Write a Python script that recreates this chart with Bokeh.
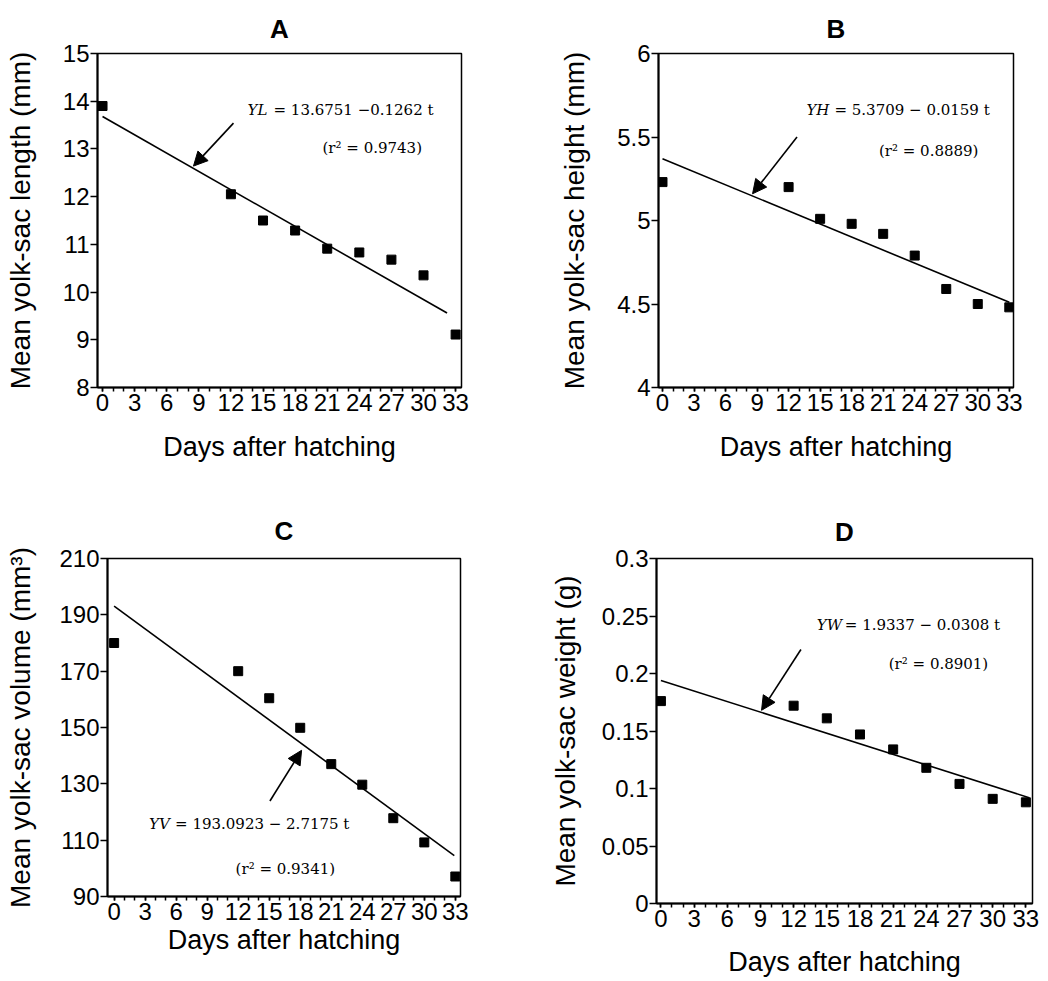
from bokeh.plotting import figure
from bokeh.layouts import column, row
from bokeh.models import (Range1d, FixedTicker, CustomJSTickFormatter, Arrow,
                          NormalHead)
from bokeh.core.properties import value
from bokeh.embed import file_html
from bokeh.resources import INLINE

# ---------------- data ----------------
days = [0, 12, 15, 18, 21, 24, 27, 30, 33]
length_mm = [13.90, 12.05, 11.50, 11.29, 10.91, 10.83, 10.68, 10.35, 9.11]
height_mm = [5.23, 5.20, 5.01, 4.98, 4.92, 4.79, 4.59, 4.50, 4.48]
volume_mm3 = [180.0, 170.0, 160.4, 149.9, 137.0, 129.7, 117.8, 109.2, 97.1]
weight_g = [0.176, 0.172, 0.161, 0.147, 0.134, 0.118, 0.104, 0.091, 0.088]

# regression lines as drawn (start/end)
fit_A_x = [0, 32.2]
fit_A_y = [13.68, 9.56]
fit_B_x = [0, 33]
fit_B_y = [5.37, 4.51]
fit_C_x = [0, 32.9]
fit_C_y = [193.1, 104.5]
fit_D_x = [0, 33.3]
fit_D_y = [0.194, 0.092]

x_ticks = [0, 3, 6, 9, 12, 15, 18, 21, 24, 27, 30, 33]
yticks_A = [8, 9, 10, 11, 12, 13, 14, 15]
yticks_B = [4, 4.5, 5, 5.5, 6]
yticks_C = [90, 110, 130, 150, 170, 190, 210]
yticks_D = [0, 0.05, 0.1, 0.15, 0.2, 0.25, 0.3]

eq_A = ("YL", "= 13.6751 \u22120.1262 t", "(r\u00b2 = 0.9743)")
eq_B = ("YH", "= 5.3709 \u2212 0.0159 t", "(r\u00b2 = 0.8889)")
eq_C = ("YV", "= 193.0923 \u2212 2.7175 t", "(r\u00b2 = 0.9341)")
eq_D = ("YW", "= 1.9337 \u2212 0.0308 t", "(r\u00b2 = 0.8901)")

SANS = "Liberation Sans"
SERIF = "DejaVu Serif"


def panel(title, ylabel, yvals, yr, xr, yticks, fx, fy, arrow, eq, eq_pos, r2_pos,
          var_w, width, height, borders, xl_standoff, yl_standoff, title_standoff):
    left, right, top, bottom = borders
    p = figure(width=width, height=height, output_backend="svg", toolbar_location=None,
               x_range=Range1d(*xr), y_range=Range1d(*yr),
               min_border_left=left, min_border_right=right,
               min_border_top=top, min_border_bottom=bottom)
    p.grid.visible = False
    p.outline_line_color = "black"
    p.outline_line_width = 1.5
    p.background_fill_color = "white"
    p.border_fill_color = "white"

    p.title.text = title
    p.title.align = "center"
    p.title.text_font = SANS
    p.title.text_font_size = "26px"
    p.title.text_font_style = "bold"
    p.title.text_color = "black"
    p.title.standoff = title_standoff

    xa = p.xaxis[0]
    xa.ticker = FixedTicker(ticks=x_ticks, minor_ticks=list(range(0, 34)))
    xa.axis_label = "Days after hatching"
    xa.axis_label_text_font = SANS
    xa.axis_label_text_font_size = "27px"
    xa.axis_label_text_font_style = "normal"
    xa.axis_label_text_color = "black"
    xa.axis_label_standoff = xl_standoff
    xa.major_label_text_font = SANS
    xa.major_label_text_font_size = "24px"
    xa.major_label_text_color = "black"
    xa.major_label_standoff = 2
    xa.major_tick_in = 0
    xa.major_tick_out = 4
    xa.minor_tick_in = 0
    xa.minor_tick_out = 4
    xa.axis_line_width = 2
    xa.axis_line_color = "black"
    xa.major_tick_line_width = 1.5
    xa.minor_tick_line_width = 1.5
    xa.major_tick_line_color = "black"
    xa.minor_tick_line_color = "black"

    ya = p.yaxis[0]
    ya.ticker = FixedTicker(ticks=yticks)
    ya.formatter = CustomJSTickFormatter(code="return String(Math.round(tick*1000)/1000);")
    ya.axis_label = ylabel
    ya.axis_label_text_font = SANS
    ya.axis_label_text_font_size = "28px"
    ya.axis_label_text_font_style = "normal"
    ya.axis_label_text_color = "black"
    ya.axis_label_standoff = yl_standoff
    ya.major_label_text_font = SANS
    ya.major_label_text_font_size = "24px"
    ya.major_label_text_color = "black"
    ya.major_label_standoff = 1
    ya.major_tick_in = 0
    ya.major_tick_out = 7
    ya.minor_tick_line_color = None
    ya.axis_line_width = 2
    ya.axis_line_color = "black"
    ya.major_tick_line_width = 1.5
    ya.major_tick_line_color = "black"

    p.line(fx, fy, line_color="black", line_width=1.6)
    p.scatter(days, yvals, marker="square", size=9, fill_color="black", line_color="black")

    (x0, y0), (x1, y1) = arrow
    p.add_layout(Arrow(end=NormalHead(size=14, fill_color="black", line_color="black"),
                       x_start=x0, y_start=y0, x_end=x1, y_end=y1,
                       line_color="black", line_width=1.6))

    var, rest, r2 = eq
    p.text(x=[eq_pos[0]], y=[eq_pos[1]], text=[var], text_font=value(SERIF),
           text_font_style="italic", text_font_size="15px", text_baseline="middle",
           text_align="left", text_color="black")
    p.text(x=[eq_pos[0]], y=[eq_pos[1]], text=[rest], text_font=value(SERIF),
           text_font_size="15px", text_baseline="middle", text_align="left",
           text_color="black", x_offset=var_w)
    p.text(x=[r2_pos[0]], y=[r2_pos[1]], text=[r2], text_font=value(SERIF),
           text_font_size="15px", text_baseline="middle", text_align="left",
           text_color="black")
    return p


pA = panel("A", "Mean yolk-sac length (mm)", length_mm, (8, 15), (-0.47, 33.55), yticks_A,
           fit_A_x, fit_A_y, ((12.24, 13.54), (8.5, 12.64)), eq_A, (13.55, 13.81), (20.56, 13.01),
           26, 481, 478, (97, 20, 53, 90), 18, 24, 20)
pB = panel("B", "Mean yolk-sac height (mm)", height_mm, (4, 6), (-0.38, 33.4), yticks_B,
           fit_B_x, fit_B_y, ((12.8, 5.5), (8.57, 5.16)), eq_B, (13.7, 5.66), (20.6, 5.416),
           28, 552, 478, (177, 20, 53, 91), 18, 24, 20)
pC = panel("C", "Mean yolk-sac volume (mm\u00b3)", volume_mm3, (90, 210), (-0.64, 33.5), yticks_C,
           fit_C_x, fit_C_y, ((15.07, 123.9), (18.13, 141.9)), eq_C, (3.38, 115.8), (11.75, 99.8),
           26, 481, 494, (107, 21, 80, 76), 2, 20, 26)
pD = panel("D", "Mean yolk-sac weight (g)", weight_g, (0, 0.3), (-0.4, 33.6), yticks_D,
           fit_D_x, fit_D_y, ((12.66, 0.2209), (9.1, 0.168)), eq_D, (14.1, 0.2421), (20.6, 0.2079),
           28, 563, 501, (175, 12, 79, 76), 17, 18, 23)

layout = column(row(pA, pB), row(pC, pD))
open("out.html", "w").write(file_html(layout, INLINE))
